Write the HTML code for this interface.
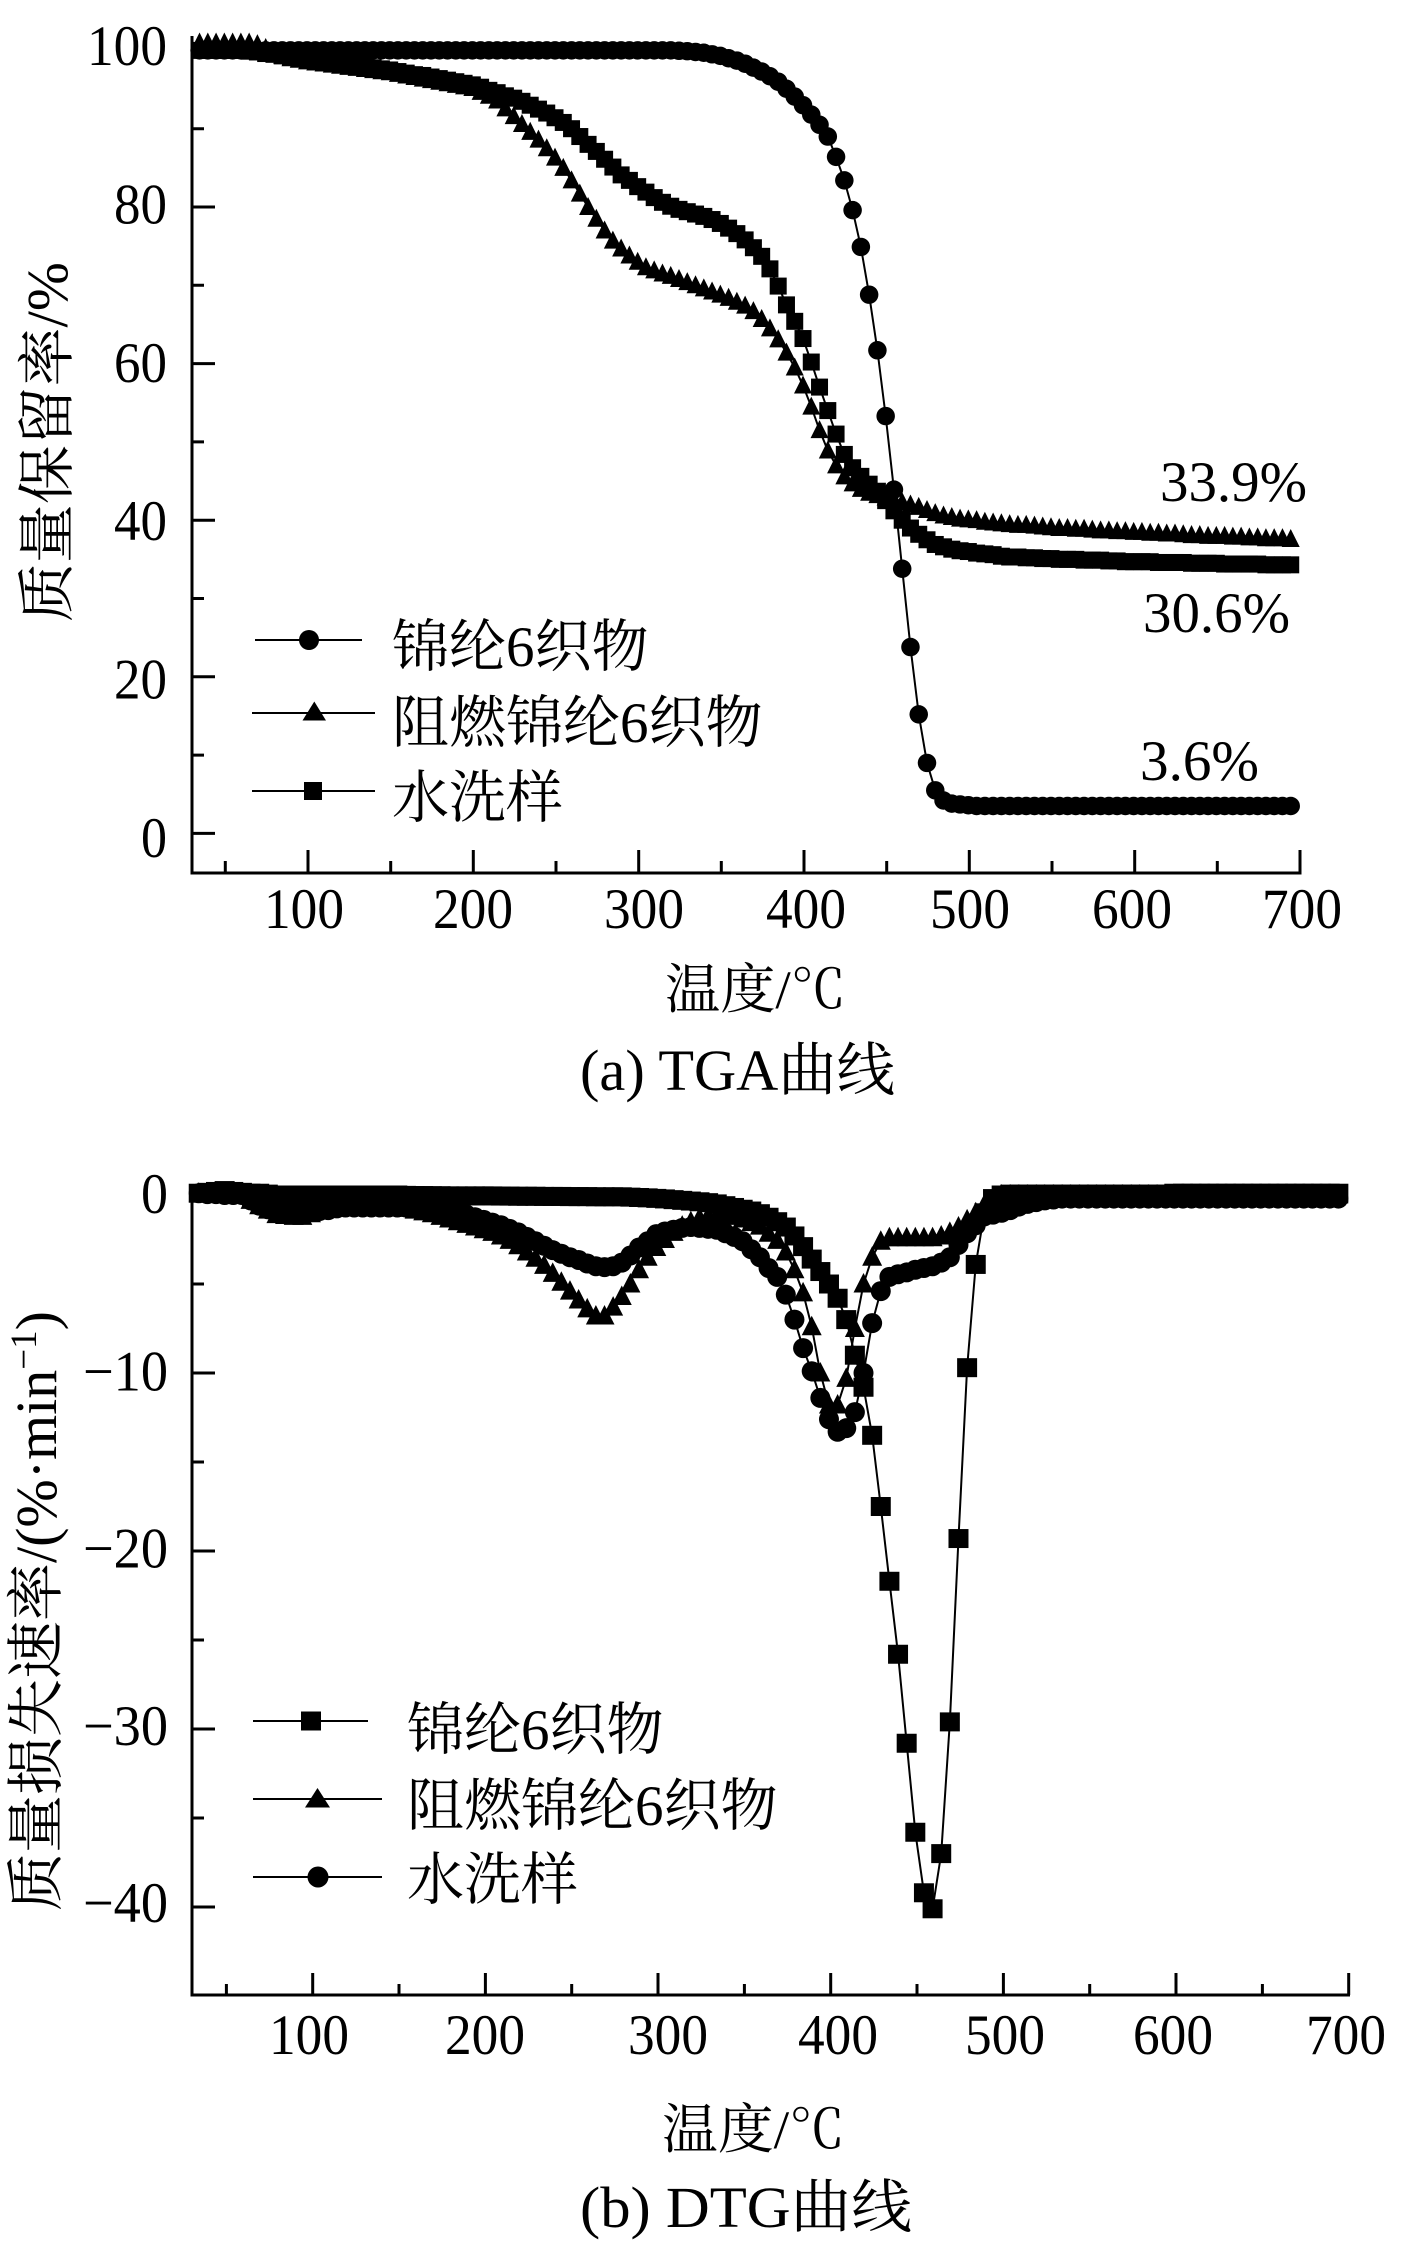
<!DOCTYPE html>
<html><head><meta charset="utf-8">
<style>
html,body{margin:0;padding:0;background:#fff}
svg{display:block}
.n{font-family:"Liberation Serif",serif;font-size:57px}
.c{font-family:"Liberation Serif","Noto Serif CJK SC",serif}
</style></head>
<body>
<svg width="1418" height="2244" viewBox="0 0 1418 2244" xmlns="http://www.w3.org/2000/svg">
<defs>
<marker id="tc" markerUnits="userSpaceOnUse" markerWidth="1" markerHeight="1" refX="0" refY="0" style="overflow:visible"><ellipse rx="5.6" ry="1.18"/></marker>
<marker id="ts" markerUnits="userSpaceOnUse" markerWidth="1" markerHeight="1" refX="0" refY="0" style="overflow:visible"><rect x="-5.14" y="-1.086" width="10.28" height="2.171"/></marker>
<marker id="tt" markerUnits="userSpaceOnUse" markerWidth="1" markerHeight="1" refX="0" refY="0" style="overflow:visible"><polygon points="0,1.28 5.44,-1.02 -5.44,-1.02"/></marker>
<marker id="dc" markerUnits="userSpaceOnUse" markerWidth="1" markerHeight="1" refX="0" refY="0" style="overflow:visible"><ellipse rx="5.79" ry="0.562"/></marker>
<marker id="ds" markerUnits="userSpaceOnUse" markerWidth="1" markerHeight="1" refX="0" refY="0" style="overflow:visible"><rect x="-5.79" y="-0.534" width="11.58" height="1.067"/></marker>
<marker id="dt" markerUnits="userSpaceOnUse" markerWidth="1" markerHeight="1" refX="0" refY="0" style="overflow:visible"><polygon points="0,0.618 5.79,-0.478 -5.79,-0.478"/></marker>
</defs>

<!-- ===== TGA axes ===== -->
<g stroke="#000" stroke-width="3" fill="none">
<path d="M192,36V874.5 M190.5,873H1301.5"/>
<path d="M192,833.4h23 M192,676.8h23 M192,520.2h23 M192,363.6h23 M192,207h23 M192,50.4h23"/>
<path d="M192,755.1h12 M192,598.5h12 M192,441.9h12 M192,285.3h12 M192,128.7h12"/>
<path d="M308,873v-23 M473.3,873v-23 M638.7,873v-23 M804,873v-23 M969.3,873v-23 M1134.7,873v-23 M1300,873v-23"/>
<path d="M225.3,873v-12 M390.7,873v-12 M556,873v-12 M721.3,873v-12 M886.7,873v-12 M1052,873v-12 M1217.3,873v-12"/>
</g>

<!-- ===== TGA series ===== -->
<g transform="matrix(1.6533 0 0 -7.83 141.68 833.4)">
<polyline fill="none" stroke="#000" stroke-width="2" vector-effect="non-scaling-stroke" points="390,95.1 395,94.1 400,93 405,91.8 410,90.5 415,89 420,86.4 425,83.4 430,79.6 435,74.9 440,68.8 445,61.7 450,53.3 455,43.9 460,33.8 465,23.8 470,15.2 475,9 480,5.5 485,4.2 490,3.8 495,3.7 500,3.6"/>
<polyline fill="none" stroke="#000" stroke-width="2" vector-effect="non-scaling-stroke" points="360,76.6 365,75.8 370,74.8 375,73.7 380,72.1 385,69.9 390,67.5 395,65.4 400,63.2 405,60.2 410,57 415,54 420,51 425,48.4 430,46.7 435,45.6 440,44.6 445,43.7 450,42.5 455,41.2 460,40 465,39 470,38.2 475,37.5 480,36.9"/>
<polyline fill="none" stroke="#000" stroke-width="2" vector-effect="non-scaling-stroke" points="210,94.2 215,93.6 220,92.6 225,91.6 230,90.6 235,89.6 240,88.6 245,87.5 250,86.3 255,85 260,83.4 265,81.7 270,80 275,78.5 280,77 285,75.7 290,74.7 295,73.8 300,73"/>
<polyline fill="none" stroke="#000" stroke-width="2" vector-effect="non-scaling-stroke" points="370,66.7 375,65.7 380,64.5 385,63.1 390,61.4 395,59.5 400,57.2 405,54.5 410,51.5 415,48.9 420,47 425,45.6 430,44.7 435,44 440,43.5 445,43.2"/>

<polyline fill="none" stroke="none" marker-start="url(#tc)" marker-mid="url(#tc)" marker-end="url(#tc)" points="35,100 40,100 45,100 50,100 55,100 60,100 65,100 70,100 75,100 80,100 85,100 90,100 95,100 100,100 105,100 110,100 115,100 120,100 125,100 130,100 135,100 140,100 145,100 150,100 155,100 160,100 165,100 170,100 175,100 180,100 185,100 190,100 195,100 200,100 205,100 210,100 215,100 220,100 225,100 230,100 235,100 240,100 245,100 250,100 255,100 260,100 265,100 270,100 275,100 280,100 285,100 290,100 295,100 300,100 305,100 310,100 315,100 320,100 325,99.95 330,99.9 335,99.8 340,99.7 345,99.5 350,99.3 355,99 360,98.7 365,98.3 370,97.8 375,97.3 380,96.7 385,96 390,95.1 395,94.1 400,93 405,91.8 410,90.5 415,89 420,86.4 425,83.4 430,79.6 435,74.9 440,68.8 445,61.7 450,53.3 455,43.9 460,33.8 465,23.8 470,15.2 475,9 480,5.5 485,4.2 490,3.8 495,3.7 500,3.6 505,3.5 510,3.5 515,3.5 520,3.5 525,3.5 530,3.5 535,3.5 540,3.5 545,3.5 550,3.5 555,3.5 560,3.5 565,3.5 570,3.5 575,3.5 580,3.5 585,3.5 590,3.5 595,3.5 600,3.5 605,3.5 610,3.5 615,3.5 620,3.5 625,3.5 630,3.5 635,3.5 640,3.5 645,3.5 650,3.5 655,3.5 660,3.5 665,3.5 670,3.5 675,3.5 680,3.5 685,3.5 690,3.5 695,3.5"/>

<polyline fill="none" stroke="none" marker-start="url(#tt)" marker-mid="url(#tt)" marker-end="url(#tt)" points="35,101 40,101 45,101 50,101 55,101 60,101 65,101 70,100.8 75,100.3 80,99.8 85,99.3 90,99 95,98.8 100,98.6 105,98.46 110,98.32 115,98.18 120,98.04 125,97.9 130,97.76 135,97.62 140,97.48 145,97.34 150,97.2 155,97 160,96.8 165,96.6 170,96.4 175,96.2 180,96 185,95.8 190,95.6 195,95.4 200,95.2 205,94.7 210,94.2 215,93.6 220,92.6 225,91.6 230,90.6 235,89.6 240,88.6 245,87.5 250,86.3 255,85 260,83.4 265,81.7 270,80 275,78.5 280,77 285,75.7 290,74.7 295,73.8 300,73 305,72.3 310,71.9 315,71.5 320,71.2 325,70.8 330,70.4 335,70 340,69.6 345,69.2 350,68.8 355,68.4 360,67.9 365,67.4 370,66.7 375,65.7 380,64.5 385,63.1 390,61.4 395,59.5 400,57.2 405,54.5 410,51.5 415,48.9 420,47 425,45.6 430,44.7 435,44 440,43.5 445,43.2 450,42.9 455,42.6 460,42.3 465,42 470,41.7 475,41.3 480,40.9 485,40.6 490,40.4 495,40.2 500,40.1 505,40 510,39.8 515,39.7 520,39.6 525,39.5 530,39.4 535,39.4 540,39.3 545,39.2 550,39.1 555,39 560,39 565,38.9 570,38.9 575,38.8 580,38.7 585,38.7 590,38.6 595,38.6 600,38.5 605,38.5 610,38.4 615,38.4 620,38.3 625,38.3 630,38.2 635,38.1 640,38.1 645,38 650,38 655,38 660,37.9 665,37.9 670,37.8 675,37.8 680,37.7 685,37.7 690,37.7 695,37.6"/>

<polyline fill="none" stroke="none" marker-start="url(#ts)" marker-mid="url(#ts)" marker-end="url(#ts)" points="35,100 40,100 45,100 50,100 55,100 60,100 65,99.9 70,99.8 75,99.6 80,99.5 85,99.3 90,99.1 95,99 100,98.9 105,98.76 110,98.62 115,98.48 120,98.34 125,98.2 130,98.06 135,97.92 140,97.78 145,97.64 150,97.5 155,97.3 160,97.1 165,96.9 170,96.8 175,96.6 180,96.4 185,96.2 190,96 195,95.8 200,95.6 205,95.3 210,94.9 215,94.6 220,94.2 225,93.9 230,93.5 235,93 240,92.5 245,92 250,91.4 255,90.8 260,90 265,89 270,88 275,87.1 280,86.1 285,85.1 290,84.1 295,83.4 300,82.6 305,81.9 310,81.2 315,80.6 320,80.1 325,79.7 330,79.4 335,79.1 340,78.8 345,78.4 350,77.9 355,77.3 360,76.6 365,75.8 370,74.8 375,73.7 380,72.1 385,69.9 390,67.5 395,65.4 400,63.2 405,60.2 410,57 415,54 420,51 425,48.4 430,46.7 435,45.6 440,44.6 445,43.7 450,42.5 455,41.2 460,40 465,39 470,38.2 475,37.5 480,36.9 485,36.6 490,36.3 495,36.1 500,36 505,35.8 510,35.7 515,35.6 520,35.4 525,35.3 530,35.3 535,35.2 540,35.2 545,35.1 550,35.1 555,35 560,35 565,35 570,34.9 575,34.9 580,34.9 585,34.8 590,34.8 595,34.7 600,34.7 605,34.7 610,34.7 615,34.6 620,34.6 625,34.6 630,34.6 635,34.5 640,34.5 645,34.5 650,34.5 655,34.4 660,34.4 665,34.4 670,34.4 675,34.4 680,34.3 685,34.3 690,34.3 695,34.3"/>
</g>

<!-- ===== TGA text ===== -->
<g class="n">
<text x="87" y="65" textLength="80" lengthAdjust="spacingAndGlyphs">100</text>
<text x="114" y="223.4" textLength="53" lengthAdjust="spacingAndGlyphs">80</text>
<text x="114" y="381.8" textLength="53" lengthAdjust="spacingAndGlyphs">60</text>
<text x="114" y="540.2" textLength="53" lengthAdjust="spacingAndGlyphs">40</text>
<text x="114" y="698.6" textLength="53" lengthAdjust="spacingAndGlyphs">20</text>
<text x="141" y="857" textLength="26" lengthAdjust="spacingAndGlyphs">0</text>
<text x="264" y="928" textLength="80" lengthAdjust="spacingAndGlyphs">100</text>
<text x="433" y="928" textLength="80" lengthAdjust="spacingAndGlyphs">200</text>
<text x="604" y="928" textLength="80" lengthAdjust="spacingAndGlyphs">300</text>
<text x="766" y="928" textLength="80" lengthAdjust="spacingAndGlyphs">400</text>
<text x="930" y="928" textLength="80" lengthAdjust="spacingAndGlyphs">500</text>
<text x="1092" y="928" textLength="80" lengthAdjust="spacingAndGlyphs">600</text>
<text x="1262" y="928" textLength="80" lengthAdjust="spacingAndGlyphs">700</text>
<text x="1160" y="501" textLength="147" lengthAdjust="spacingAndGlyphs">33.9%</text>
<text x="1143" y="632" textLength="147" lengthAdjust="spacingAndGlyphs">30.6%</text>
<text x="1140" y="780" textLength="119" lengthAdjust="spacingAndGlyphs">3.6%</text>
</g>
<g class="c">
<text transform="translate(67,442) rotate(-90)" text-anchor="middle" font-size="58" textLength="360" lengthAdjust="spacingAndGlyphs">质量保留率/%</text>
<text x="665" y="1008" font-size="54" textLength="181" lengthAdjust="spacingAndGlyphs">温度/℃</text>
<text x="580" y="1090" font-size="58" textLength="315" lengthAdjust="spacingAndGlyphs">(a) TGA曲线</text>
<text x="392" y="666" font-size="57">锦纶6织物</text>
<text x="392" y="742" font-size="57">阻燃锦纶6织物</text>
<text x="392" y="817" font-size="57">水洗样</text>
</g>
<!-- TGA legend -->
<path d="M255,640H362 M252,713H375 M252,791H375" stroke="#000" stroke-width="2" fill="none"/>
<circle cx="309" cy="640" r="10"/>
<polygon points="314.3,701.5 302.5,720.5 326,720.5"/>
<rect x="304" y="782" width="18" height="18"/>

<!-- ===== DTG axes ===== -->
<g stroke="#000" stroke-width="3" fill="none">
<path d="M192,1186V1996.5 M190.5,1995H1350"/>
<path d="M192,1195h23 M192,1373h23 M192,1551h23 M192,1729h23 M192,1907h23"/>
<path d="M192,1284h12 M192,1462h12 M192,1640h12 M192,1818h12"/>
<path d="M312.7,1995v-22 M485.4,1995v-22 M658,1995v-22 M830.7,1995v-22 M1003.4,1995v-22 M1176,1995v-22 M1348.7,1995v-22"/>
<path d="M226.4,1995v-11 M399,1995v-11 M571.7,1995v-11 M744.4,1995v-11 M917,1995v-11 M1089.7,1995v-11 M1262.4,1995v-11"/>
</g>

<!-- ===== DTG series ===== -->
<g transform="matrix(1.7267 0 0 -17.8 138.3 1195)">
<polyline fill="none" stroke="#000" stroke-width="2" vector-effect="non-scaling-stroke" points="390,-3.6 395,-4.3 400,-5 405,-5.8 410,-7 415,-9 420,-10.8 425,-13.5 430,-17.5 435,-21.7 440,-25.8 445,-30.8 450,-35.8 455,-39.2 460,-40.1 465,-37 470,-29.6 475,-19.3 480,-9.7 485,-3.9 490,-1 495,-0.2 500,0"/>
<polyline fill="none" stroke="#000" stroke-width="2" vector-effect="non-scaling-stroke" points="370,-2.55 375,-3.2 380,-4.2 385,-5.5 390,-7.4 395,-10 400,-11.8 405,-11.8 410,-10.3 415,-7.5 420,-5 425,-3.5 430,-2.6 435,-2.4"/>
<polyline fill="none" stroke="#000" stroke-width="2" vector-effect="non-scaling-stroke" points="360,-3.5 365,-4.1 370,-4.6 375,-5.6 380,-7 385,-8.6 390,-9.9 395,-11.4 400,-12.6 405,-13.3 410,-13.1 415,-12.2 420,-10 425,-7.2 430,-5.4 435,-4.6 440,-4.45"/>

<polyline fill="none" stroke="none" marker-start="url(#ds)" marker-mid="url(#ds)" marker-end="url(#ds)" points="35,0.1 40,0.15 45,0.2 50,0.25 55,0.2 60,0.15 65,0.1 70,0.1 75,0.05 80,0 85,0 90,0 95,0 100,0 105,0 110,0 115,0 120,0 125,0 130,0 135,0 140,0 145,0 150,0 155,-0.02 160,-0.03 165,-0.03 170,-0.04 175,-0.04 180,-0.05 185,-0.05 190,-0.05 195,-0.05 200,-0.05 205,-0.05 210,-0.06 215,-0.06 220,-0.07 225,-0.07 230,-0.07 235,-0.08 240,-0.08 245,-0.08 250,-0.09 255,-0.09 260,-0.09 265,-0.1 270,-0.1 275,-0.1 280,-0.1 285,-0.12 290,-0.14 295,-0.16 300,-0.19 305,-0.22 310,-0.26 315,-0.3 320,-0.34 325,-0.38 330,-0.43 335,-0.5 340,-0.6 345,-0.7 350,-0.8 355,-0.9 360,-1.05 365,-1.25 370,-1.5 375,-1.8 380,-2.3 385,-2.9 390,-3.6 395,-4.3 400,-5 405,-5.8 410,-7 415,-9 420,-10.8 425,-13.5 430,-17.5 435,-21.7 440,-25.8 445,-30.8 450,-35.8 455,-39.2 460,-40.1 465,-37 470,-29.6 475,-19.3 480,-9.7 485,-3.9 490,-1 495,-0.2 500,0 505,0.05 510,0.05 515,0.05 520,0.05 525,0.05 530,0.05 535,0.05 540,0.05 545,0.05 550,0.05 555,0.05 560,0.05 565,0.05 570,0.05 575,0.05 580,0.05 585,0.05 590,0.05 595,0.05 600,0.1 605,0.1 610,0.1 615,0.1 620,0.1 625,0.1 630,0.1 635,0.1 640,0.1 645,0.1 650,0.1 655,0.1 660,0.1 665,0.1 670,0.1 675,0.1 680,0.1 685,0.1 690,0.1 695,0.1"/>

<polyline fill="none" stroke="none" marker-start="url(#dt)" marker-mid="url(#dt)" marker-end="url(#dt)" points="35,0.1 40,0.05 45,0.05 50,0 55,0 60,0 65,-0.3 70,-0.6 75,-0.85 80,-1.1 85,-1.15 90,-1.2 95,-1.2 100,-1.05 105,-0.9 110,-0.8 115,-0.7 120,-0.7 125,-0.65 130,-0.65 135,-0.6 140,-0.6 145,-0.6 150,-0.65 155,-0.75 160,-0.85 165,-0.95 170,-1.05 175,-1.2 180,-1.35 185,-1.5 190,-1.65 195,-1.8 200,-1.95 205,-2.1 210,-2.3 215,-2.55 220,-2.85 225,-3.2 230,-3.55 235,-3.95 240,-4.4 245,-4.9 250,-5.4 255,-5.9 260,-6.4 265,-6.8 270,-6.8 275,-6.3 280,-5.7 285,-5 290,-4.2 295,-3.5 300,-2.95 305,-2.5 310,-2.1 315,-1.75 320,-1.5 325,-1.3 330,-1.2 335,-1.15 340,-1.15 345,-1.2 350,-1.35 355,-1.55 360,-1.75 365,-2.15 370,-2.55 375,-3.2 380,-4.2 385,-5.5 390,-7.4 395,-10 400,-11.8 405,-11.8 410,-10.3 415,-7.5 420,-5 425,-3.5 430,-2.6 435,-2.4 440,-2.4 445,-2.4 450,-2.4 455,-2.4 460,-2.4 465,-2.3 470,-2.1 475,-1.8 480,-1.4 485,-1 490,-0.55 495,-0.2 500,0 505,0 510,0 515,0 520,0 525,0 530,0 535,0 540,0 545,0 550,0 555,0 560,0 565,0 570,0 575,0 580,0 585,0 590,0 595,0 600,0 605,0 610,0 615,0 620,0 625,0 630,0 635,0 640,0 645,0 650,0 655,0 660,0 665,0 670,0 675,0 680,0 685,0 690,0 695,0"/>

<polyline fill="none" stroke="none" marker-start="url(#dc)" marker-mid="url(#dc)" marker-end="url(#dc)" points="35,0.1 40,0.05 45,0.05 50,0 55,0 60,0 65,-0.3 70,-0.6 75,-0.8 80,-1 85,-1 90,-1 95,-1 100,-0.95 105,-0.9 110,-0.85 115,-0.75 120,-0.7 125,-0.7 130,-0.7 135,-0.7 140,-0.7 145,-0.7 150,-0.7 155,-0.7 160,-0.7 165,-0.7 170,-0.75 175,-0.8 180,-0.9 185,-1 190,-1.1 195,-1.25 200,-1.4 205,-1.55 210,-1.7 215,-1.9 220,-2.1 225,-2.35 230,-2.6 235,-2.85 240,-3.1 245,-3.3 250,-3.5 255,-3.65 260,-3.85 265,-4 270,-4.05 275,-4 280,-3.8 285,-3.4 290,-2.95 295,-2.6 300,-2.2 305,-2.05 310,-1.95 315,-1.85 320,-1.8 325,-1.85 330,-1.9 335,-1.95 340,-2.15 345,-2.35 350,-2.6 355,-3.05 360,-3.5 365,-4.1 370,-4.6 375,-5.6 380,-7 385,-8.6 390,-9.9 395,-11.4 400,-12.6 405,-13.3 410,-13.1 415,-12.2 420,-10 425,-7.2 430,-5.4 435,-4.6 440,-4.45 445,-4.35 450,-4.2 455,-4.1 460,-4 465,-3.8 470,-3.5 475,-2.8 480,-2.15 485,-1.7 490,-1.2 495,-1.1 500,-1 505,-0.85 510,-0.65 515,-0.5 520,-0.4 525,-0.3 530,-0.25 535,-0.2 540,-0.2 545,-0.2 550,-0.2 555,-0.2 560,-0.2 565,-0.2 570,-0.2 575,-0.2 580,-0.2 585,-0.2 590,-0.2 595,-0.2 600,-0.2 605,-0.2 610,-0.2 615,-0.2 620,-0.2 625,-0.2 630,-0.2 635,-0.2 640,-0.2 645,-0.2 650,-0.2 655,-0.2 660,-0.2 665,-0.2 670,-0.2 675,-0.2 680,-0.2 685,-0.2 690,-0.2 695,-0.2"/>
</g>

<!-- ===== DTG text ===== -->
<g class="n">
<text x="141" y="1213" textLength="27" lengthAdjust="spacingAndGlyphs">0</text>
<text x="83" y="1390.3" textLength="85" lengthAdjust="spacingAndGlyphs">−10</text>
<text x="83" y="1567.6" textLength="85" lengthAdjust="spacingAndGlyphs">−20</text>
<text x="83" y="1744.9" textLength="85" lengthAdjust="spacingAndGlyphs">−30</text>
<text x="83" y="1922.2" textLength="85" lengthAdjust="spacingAndGlyphs">−40</text>
<text x="269" y="2054" textLength="80" lengthAdjust="spacingAndGlyphs">100</text>
<text x="445" y="2054" textLength="80" lengthAdjust="spacingAndGlyphs">200</text>
<text x="628" y="2054" textLength="80" lengthAdjust="spacingAndGlyphs">300</text>
<text x="798" y="2054" textLength="80" lengthAdjust="spacingAndGlyphs">400</text>
<text x="965" y="2054" textLength="80" lengthAdjust="spacingAndGlyphs">500</text>
<text x="1133" y="2054" textLength="80" lengthAdjust="spacingAndGlyphs">600</text>
<text x="1306" y="2054" textLength="80" lengthAdjust="spacingAndGlyphs">700</text>
</g>
<g class="c">
<text transform="translate(56,1611) rotate(-90)" text-anchor="middle" font-size="58">质量损失速率/(%·min<tspan dy="-20" font-size="37">−1</tspan><tspan dy="20">)</tspan></text>
<text x="662" y="2148" font-size="54" textLength="183" lengthAdjust="spacingAndGlyphs">温度/℃</text>
<text x="580" y="2227" font-size="58" textLength="332" lengthAdjust="spacingAndGlyphs">(b) DTG曲线</text>
<text x="407" y="1749" font-size="57">锦纶6织物</text>
<text x="407" y="1825" font-size="57">阻燃锦纶6织物</text>
<text x="407" y="1899" font-size="57">水洗样</text>
</g>
<!-- DTG legend -->
<path d="M253,1721H368 M253,1799H382 M253,1877H382" stroke="#000" stroke-width="2" fill="none"/>
<rect x="301" y="1711.5" width="20" height="19"/>
<polygon points="317.5,1788 305,1807.5 330,1807.5"/>
<circle cx="318" cy="1877" r="10.5"/>
</svg>
</body></html>
